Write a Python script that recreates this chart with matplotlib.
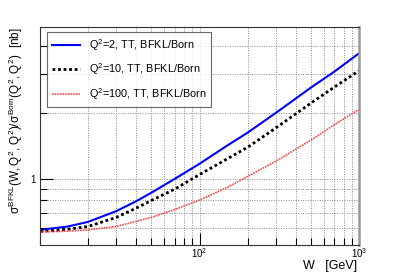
import matplotlib
matplotlib.use("Agg")
import matplotlib.pyplot as plt
from matplotlib.ticker import FixedLocator, NullFormatter, FixedFormatter

plt.rcParams['font.family'] = ['Liberation Sans', 'DejaVu Sans']
plt.rcParams['mathtext.fontset'] = 'custom'
plt.rcParams['mathtext.rm'] = 'Liberation Sans'
plt.rcParams['mathtext.it'] = 'Liberation Sans'
plt.rcParams['mathtext.bf'] = 'Liberation Sans:bold'

# values
W = [10, 15, 20, 30, 40, 50, 70, 100, 150, 200, 300, 500, 700, 1000]
q2_2 = [0.586, 0.607, 0.637, 0.712, 0.79, 0.865, 1.0, 1.17, 1.42, 1.62, 1.99, 2.6, 3.07, 3.72]
q2_10 = [0.576, 0.59, 0.607, 0.667, 0.735, 0.797, 0.898, 1.045, 1.235, 1.39, 1.70, 2.21, 2.61, 3.1]
q2_100 = [0.573, 0.578, 0.586, 0.607, 0.64, 0.668, 0.725, 0.80, 0.915, 1.025, 1.2, 1.5, 1.76, 2.07]

labels = ["Q$^2$=2, TT, BFKL/Born", "Q$^2$=10, TT, BFKL/Born", "Q$^2$=100, TT, BFKL/Born"]

fig = plt.figure(figsize=(3.99, 2.72), dpi=100)
ax = fig.add_axes([0.1003, 0.0993, 0.7994, 0.8014])

ax.plot(W, q2_2, color='#0000ff', lw=1.5, ls='-', label=labels[0])
ax.plot(W, q2_10, color='black', lw=2.0, ls=(0, (1, 1)), label=labels[1])
ax.plot(W, q2_100, color='#ff4444', lw=1.2, ls=(0, (1, 0.6)), label=labels[2])

ax.set_xscale('log')
ax.set_yscale('log')
ax.set_xlim(10, 1000)
ax.set_ylim(0.5, 4.9)

xt = [v * d for d in (10, 100) for v in range(1, 10)] + [1000]
ax.xaxis.set_major_locator(FixedLocator([100, 1000]))
ax.xaxis.set_major_formatter(FixedFormatter(['10$^2$', '10$^3$']))
ax.xaxis.set_minor_locator(FixedLocator([v for v in xt if v not in (100, 1000)]))
ax.xaxis.set_minor_formatter(NullFormatter())

yt = [0.6, 0.7, 0.8, 0.9, 2, 3, 4]
ax.yaxis.set_major_locator(FixedLocator([1]))
ax.yaxis.set_major_formatter(FixedFormatter(['1']))
ax.yaxis.set_minor_locator(FixedLocator(yt))
ax.yaxis.set_minor_formatter(NullFormatter())

ax.grid(True, which='both', color='#888888', ls=(0, (1, 1.5)), lw=0.7)
ax.tick_params(which='major', direction='in', length=9, width=0.8, labelsize=7, pad=3)
ax.tick_params(which='minor', direction='in', length=5, width=0.8)
ax.tick_params(axis='x', which='major', pad=1)

for s in ('left', 'bottom', 'top'):
    ax.spines[s].set_color('#333333')
    ax.spines[s].set_linewidth(0.8)
ax.spines['right'].set_color('#999999')
ax.spines['right'].set_linewidth(1.8)

ax.set_xlabel('W   [GeV]', fontsize=9, loc='right')
ax.xaxis.set_label_coords(0.995, -0.068)
ax.set_ylabel(r'$\sigma^{BFKL}(W,Q^2,Q^2)/\sigma^{Born}(Q^2,Q^2)$  [nb]',
              fontsize=8.5, loc='top', labelpad=4)

leg = ax.legend(loc='upper left', bbox_to_anchor=(0.022, 0.977), fontsize=7.8,
                frameon=True, fancybox=False, edgecolor='#444444',
                handlelength=2.6, borderpad=0.45, labelspacing=0.8,
                handletextpad=0.8, borderaxespad=0)
leg.get_frame().set_linewidth(0.8)

fig.savefig('out.png', dpi=100)
